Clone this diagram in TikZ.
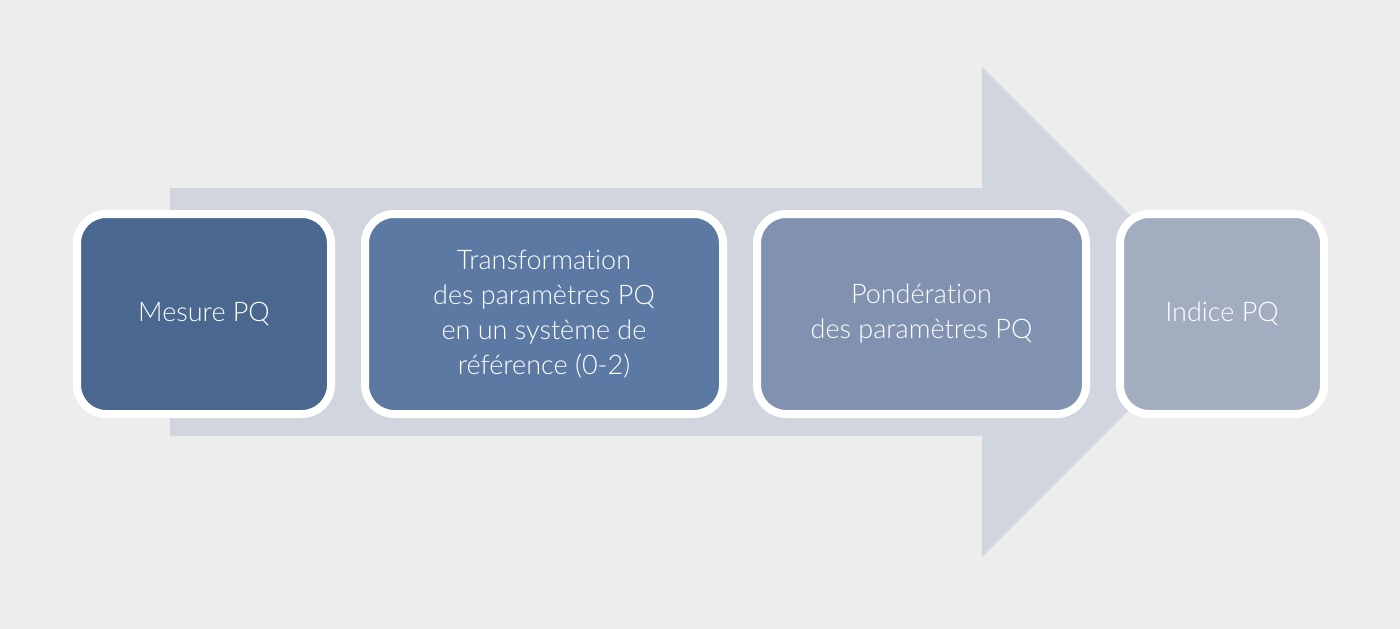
\documentclass[tikz,border=0pt]{standalone}
\usepackage{fontspec}
\setmainfont{Lato}[UprightFont=* Light, Ligatures={NoCommon}]
\definecolor{bgc}{HTML}{EDEDED}
\definecolor{arrowc}{HTML}{D0D5DE}
\definecolor{c1}{HTML}{4A6790}
\definecolor{c2}{HTML}{5B79A3}
\definecolor{c3}{HTML}{8192B0}
\definecolor{c4}{HTML}{A2ADBF}
\begin{document}
\begin{tikzpicture}[x=1pt,y=-1pt,
  stagebox/.style={draw=white, line width=8pt, rounded corners=29pt,
    minimum height=200pt, inner sep=0pt, align=center, text=white,
    font=\fontsize{27}{35}\selectfont}]
\fill[bgc] (0,0) rectangle (1400,629);
\useasboundingbox (0,0) rectangle (1400,629);
\fill[arrowc] (170,188) -- (982,188) -- (982,67) -- (1227,312) -- (982,557) -- (982,436) -- (170,436) -- cycle;
\node[stagebox, fill=c1, minimum width=254pt] (b1) at (204,314) {Mesure PQ};
\node[stagebox, fill=c2, minimum width=358pt] (b2) at (544,314) {Transformation\\des paramètres PQ\\en un système de\\référence (0-2)};
\node[stagebox, fill=c3, minimum width=329pt] (b3) at (921.5,314) {Pondération\\des paramètres PQ};
\node[stagebox, fill=c4, minimum width=204pt] (b4) at (1222,314) {Indice PQ};
\end{tikzpicture}
\end{document}
